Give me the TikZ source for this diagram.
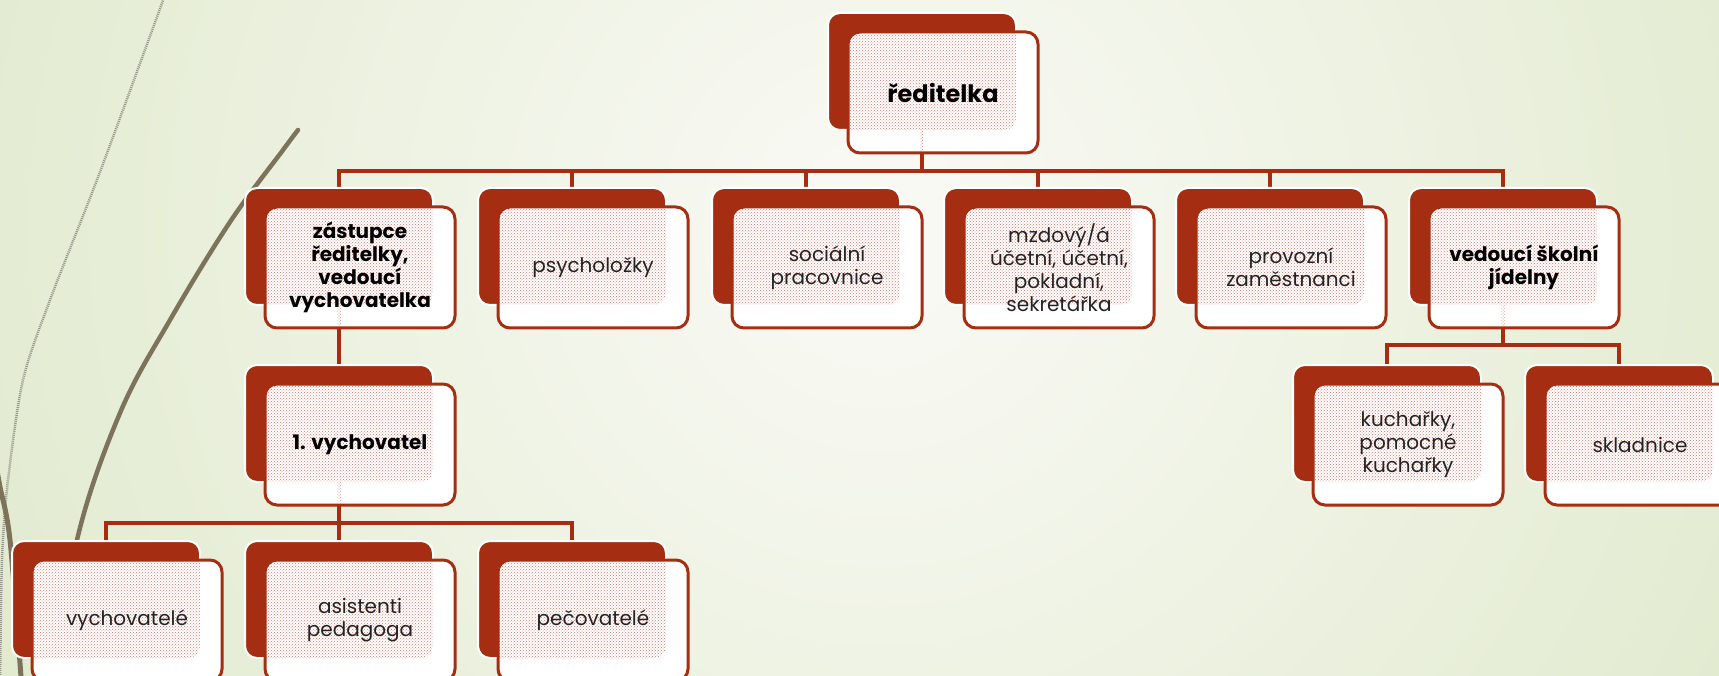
\documentclass[tikz,border=0pt]{standalone}
\usepackage{fontspec}
\setmainfont{Poppins}
\usetikzlibrary{patterns,calc}
\pgfdeclarelayer{bgl}
\pgfdeclarelayer{connl}
\pgfsetlayers{bgl,connl,main}
\definecolor{rust}{RGB}{165,46,18}
\definecolor{dotc}{RGB}{216,120,106}
\definecolor{bgg}{RGB}{226,235,208}
\definecolor{bgw}{RGB}{250,250,246}
\definecolor{olive}{RGB}{124,115,90}
\definecolor{hatch}{RGB}{150,150,140}
\definecolor{txt}{RGB}{35,35,35}
\tikzset{
  backbox/.style={rectangle, rounded corners=12pt, fill=rust, draw=white, line width=2pt,
    minimum width=188pt, minimum height=117pt, inner sep=0pt, outer sep=0pt, anchor=north west},
  frontbox/.style={rectangle, rounded corners=12pt, fill=white, draw=rust, line width=3pt,
    minimum width=190pt, minimum height=121pt, inner sep=0pt, outer sep=0pt, anchor=north west,
    align=center, text=txt, font=\fontsize{20}{23}\selectfont},
  boldtext/.style={font=\fontsize{20}{23}\selectfont\bfseries, text=black},
  bigbold/.style={font=\fontsize{24}{28}\selectfont\bfseries, text=black},
  conn/.style={draw=rust, line width=3.5pt},
  dotfill/.style={pattern=crosshatch dots, pattern color=dotc},
}
\newcommand\orgbox[5][]{%
  \node[backbox] (#2-b) at (#3,#4) {};
  \node[frontbox, #1, path picture={\fill[dotfill, rounded corners=12pt] (#2-b.north west) rectangle (#2-b.south east);}]
    (#2) at ($(#3,#4)+(20,19)$) {#5};
}
\begin{document}
\begin{tikzpicture}[x=1pt, y=-1pt]
\useasboundingbox (0,0) rectangle (1719,676);
\begin{pgfonlayer}{bgl}
  \fill[bgg] (0,0) rectangle (1719,676);
  \shade[inner color=bgw, outer color=bgg] (880,230) circle (950);
  \draw[hatch, line width=2.5pt, dash pattern=on 1pt off 1pt]
    plot[smooth] coordinates {(165,-5) (100,172) (50,300) (23,380) (8,480) (2,560) (0,690)};
  \draw[olive, line width=4.5pt, line cap=round]
    plot[smooth, tension=0.6] coordinates {(298,130) (283,150) (230,222) (170,320) (120,413) (77,540) (55,690)};
  \draw[olive, line width=5pt]
    plot[smooth] coordinates {(-4,465) (0,487) (10,540) (22,690)};
\end{pgfonlayer}

\orgbox[bigbold]{r}{828}{13}{ředitelka}
\orgbox[boldtext]{z}{245}{188}{zástupce\\ředitelky,\\vedoucí\\vychovatelka}
\orgbox{ps}{478}{188}{psycholožky}
\orgbox{so}{712}{188}{sociální\\pracovnice}
\orgbox{mz}{944}{188}{mzdový/á\\účetní, účetní,\\pokladní,\\sekretářka}
\orgbox{pr}{1176}{188}{provozní\\zaměstnanci}
\orgbox[boldtext]{vj}{1409}{188}{vedoucí školní\\jídelny}
\orgbox[boldtext]{v1}{245}{365}{1. vychovatel}
\orgbox{ku}{1293}{365}{kuchařky,\\pomocné\\kuchařky}
\orgbox{sk}{1525}{365}{skladnice}
\orgbox{vy}{12}{541}{vychovatelé}
\orgbox{as}{245}{541}{asistenti\\pedagoga}
\orgbox{pe}{478}{541}{pečovatelé}

\foreach \p in {r,z,v1,vj}
  \fill[dotfill] ($(\p-b.south)+(-1.5,0)$) rectangle ($(\p-b.south |- \p.south)+(1.5,-2)$);

\begin{pgfonlayer}{connl}
  \coordinate (rbus) at ($(r-b.south |- r.south)+(0,18)$);
  \foreach \c in {z,ps,so,mz,pr,vj}
    \draw[conn] (r-b.south |- r.south) -- (rbus) -| (\c-b.north);
  \draw[conn] (z-b.south |- z.south) -- (v1-b.north);
  \coordinate (vbus) at ($(v1-b.south |- v1.south)+(0,18)$);
  \foreach \c in {vy,as,pe}
    \draw[conn] (v1-b.south |- v1.south) -- (vbus) -| (\c-b.north);
  \coordinate (jbus) at ($(vj-b.south |- vj.south)+(0,17)$);
  \foreach \c in {ku,sk}
    \draw[conn] (vj-b.south |- vj.south) -- (jbus) -| (\c-b.north);
\end{pgfonlayer}
\end{tikzpicture}
\end{document}
